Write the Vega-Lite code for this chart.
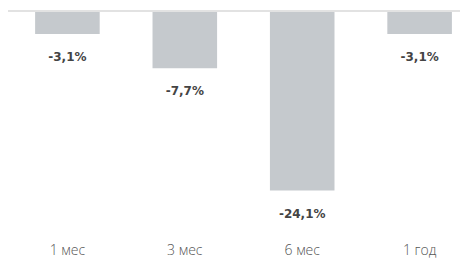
{
  "$schema": "https://vega.github.io/schema/vega-lite/v6.json",
  "autosize": {"type": "none"},
  "width": 452,
  "height": 223.5,
  "padding": {"left": 8, "top": 11, "right": 9, "bottom": 28.5},
  "background": "white",
  "config": {"view": {"stroke": null}},
  "data": {"values": [
    {"period": "1 мес", "value": -3.1, "label": "-3,1%"},
    {"period": "3 мес", "value": -7.7, "label": "-7,7%"},
    {"period": "6 мес", "value": -24.1, "label": "-24,1%"},
    {"period": "1 год", "value": -3.1, "label": "-3,1%"}
  ]},
  "encoding": {
    "x": {
      "field": "period", "type": "nominal", "sort": null,
      "scale": {"paddingInner": 0.45, "paddingOuter": 0.15, "align": 0.77},
      "axis": {"title": null, "domain": false, "ticks": false, "labelAngle": 0, "labelPadding": 16, "labelBaseline": "middle", "labelFontSize": 14, "labelFont": "Open Sans", "labelFontWeight": 300, "labelColor": "#555555"}
    }
  },
  "layer": [
    {
      "mark": {"type": "bar", "color": "#c5c9cd"},
      "encoding": {
        "y": {"field": "value", "type": "quantitative", "scale": {"domain": [-30, 0], "nice": false, "zero": true}, "axis": null}
      }
    },
    {
      "mark": {"type": "rule", "color": "#e2e2e2", "strokeWidth": 2},
      "encoding": {"y": {"datum": 0, "type": "quantitative"}, "x": null}
    },
    {
      "mark": {"type": "text", "dy": 23, "baseline": "middle", "font": "DejaVu Sans", "fontWeight": "bold", "fontSize": 12, "color": "#444444"},
      "encoding": {
        "y": {"field": "value", "type": "quantitative"},
        "text": {"field": "label"}
      }
    }
  ]
}
